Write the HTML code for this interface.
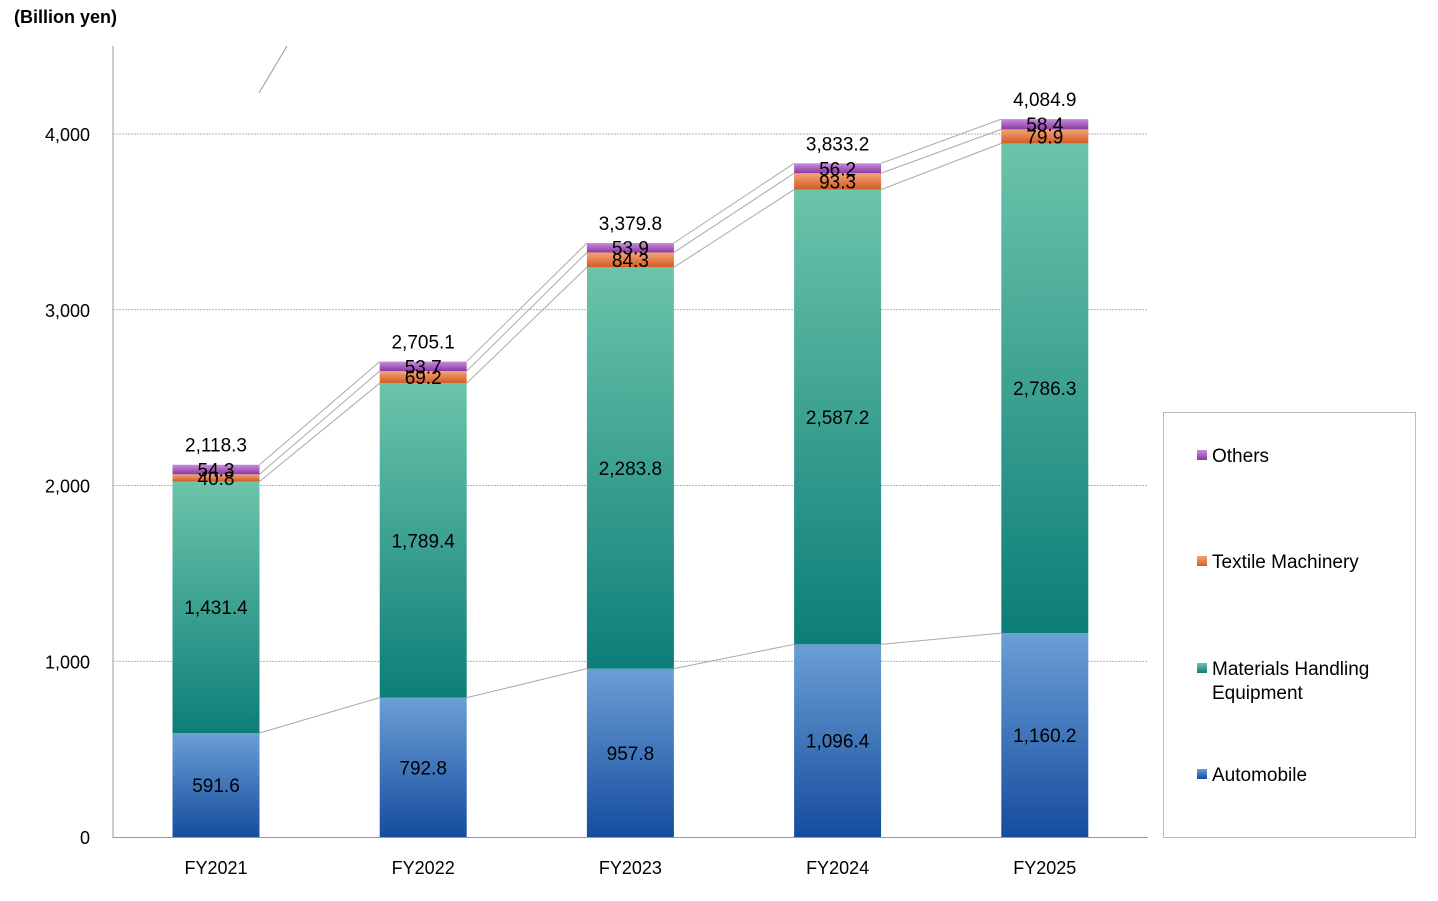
<!DOCTYPE html>
<html><head><meta charset="utf-8"><style>
body{margin:0;background:#fff;font-family:"Liberation Sans",Arial,sans-serif}
svg text{font-family:"Liberation Sans",Arial,sans-serif}
</style></head><body>
<svg id="chart" width="1438" height="896" xmlns="http://www.w3.org/2000/svg">
<defs>
<linearGradient id="gAuto" x1="0" y1="1" x2="0" y2="0"><stop offset="0" stop-color="#154c9e"/><stop offset="1" stop-color="#6b9fd5"/></linearGradient>
<linearGradient id="gMhe" x1="0" y1="1" x2="0" y2="0"><stop offset="0" stop-color="#0c7e78"/><stop offset="1" stop-color="#6cc4aa"/></linearGradient>
<linearGradient id="gTex" x1="0" y1="1" x2="0" y2="0"><stop offset="0" stop-color="#d45a22"/><stop offset="1" stop-color="#f2a676"/></linearGradient>
<linearGradient id="gOth" x1="0" y1="1" x2="0" y2="0"><stop offset="0" stop-color="#883aa3"/><stop offset="1" stop-color="#c98bdc"/></linearGradient>
</defs>
<text x="14" y="23" font-size="18" font-weight="bold">(Billion yen)</text>
<g id="grid"></g>
<line x1="113" y1="46" x2="113" y2="838" stroke="#999"/>
<line x1="113" y1="837.5" x2="1148" y2="837.5" stroke="#999"/>
<line x1="259" y1="93" x2="287" y2="46" stroke="#999"/>
<g id="lines"></g>
<g id="bars"></g>
<g id="labels"></g>
<rect x="1163.5" y="412.5" width="252" height="425" fill="#fff" stroke="#bbb"/>
<g id="legend"></g>
</svg>
<script>
const categories=["FY2021","FY2022","FY2023","FY2024","FY2025"];
const automobile=[591.6,792.8,957.8,1096.4,1160.2];
const mhe=[1431.4,1789.4,2283.8,2587.2,2786.3];
const textile=[40.8,69.2,84.3,93.3,79.9];
const others=[54.3,53.7,53.9,56.2,58.4];
const totals=[2118.3,2705.1,3379.8,3833.2,4084.9];
const yTicks=[0,1000,2000,3000,4000];
const NS="http://www.w3.org/2000/svg";
const y=v=>837-v*0.17575;
const xc=i=>216+i*207.2;
const bw=87;
function mk(t,a,p){const e=document.createElementNS(NS,t);for(const k in a)e.setAttribute(k,a[k]);if(p)p.appendChild(e);return e;}
const fmt=v=>v.toLocaleString("en-US",{minimumFractionDigits:1,maximumFractionDigits:1});
const grid=document.getElementById("grid");
yTicks.forEach(t=>{
 if(t>0){const l=mk("line",{x1:113,x2:1148,y1:y(t),y2:y(t),stroke:"#999","stroke-dasharray":"2,1","stroke-width":0.8},grid);
 }
 const tx=mk("text",{x:90,y:y(t)+7,"font-size":18,"text-anchor":"end"},grid);tx.textContent=t.toLocaleString("en-US");
 
});
const series=[automobile,mhe,textile,others];
const grads=["gAuto","gMhe","gTex","gOth"];
const sn=["automobile","materials-handling","textile","others"];
const bars=document.getElementById("bars"),labels=document.getElementById("labels"),lines=document.getElementById("lines");
categories.forEach((c,i)=>{
 let cum=0;const tops=[];
 series.forEach((s,k)=>{
  const v=s[i];const y0=y(cum),y1=y(cum+v);
  const r=mk("rect",{x:xc(i)-bw/2,y:y1,width:bw,height:y0-y1,fill:"url(#"+grads[k]+")"},bars);
  
  const t=mk("text",{x:xc(i),y:(y0+y1)/2+7,"font-size":19,"text-anchor":"middle"},labels);t.textContent=fmt(v);
  
  cum+=v;tops.push(cum);
 });
 const tt=mk("text",{x:xc(i),y:y(cum)-13,"font-size":19,"text-anchor":"middle"},labels);tt.textContent=fmt(totals[i]);
 
 if(i<categories.length-1){
  let c2=0;series.forEach((s,k)=>{c2+=s[i+1];
   const l=mk("line",{x1:xc(i)+bw/2,y1:y(tops[k]),x2:xc(i+1)-bw/2,y2:y(c2),stroke:"#aaa","stroke-width":1},lines);
   
   if(k===0){} });
 }
 const xl=mk("text",{x:xc(i),y:874,"font-size":18,"text-anchor":"middle"},labels);xl.textContent=c;
 
});
// remove connector for mhe segment? keep all four as in reference
const leg=document.getElementById("legend");
const li=[["Others","gOth",455],["Textile Machinery","gTex",561],["Materials Handling","gMhe",668],["Automobile","gAuto",774]];
li.forEach(([n,g,yy])=>{
 const r=mk("rect",{x:1197,y:yy-5,width:10,height:10,fill:"url(#"+g+")"},leg);
 
 const t=mk("text",{x:1212,y:yy+7,"font-size":19},leg);t.textContent=n;
 
});
const t2=mk("text",{x:1212,y:699,"font-size":19},leg);t2.textContent="Equipment";

</script>
</body></html>
